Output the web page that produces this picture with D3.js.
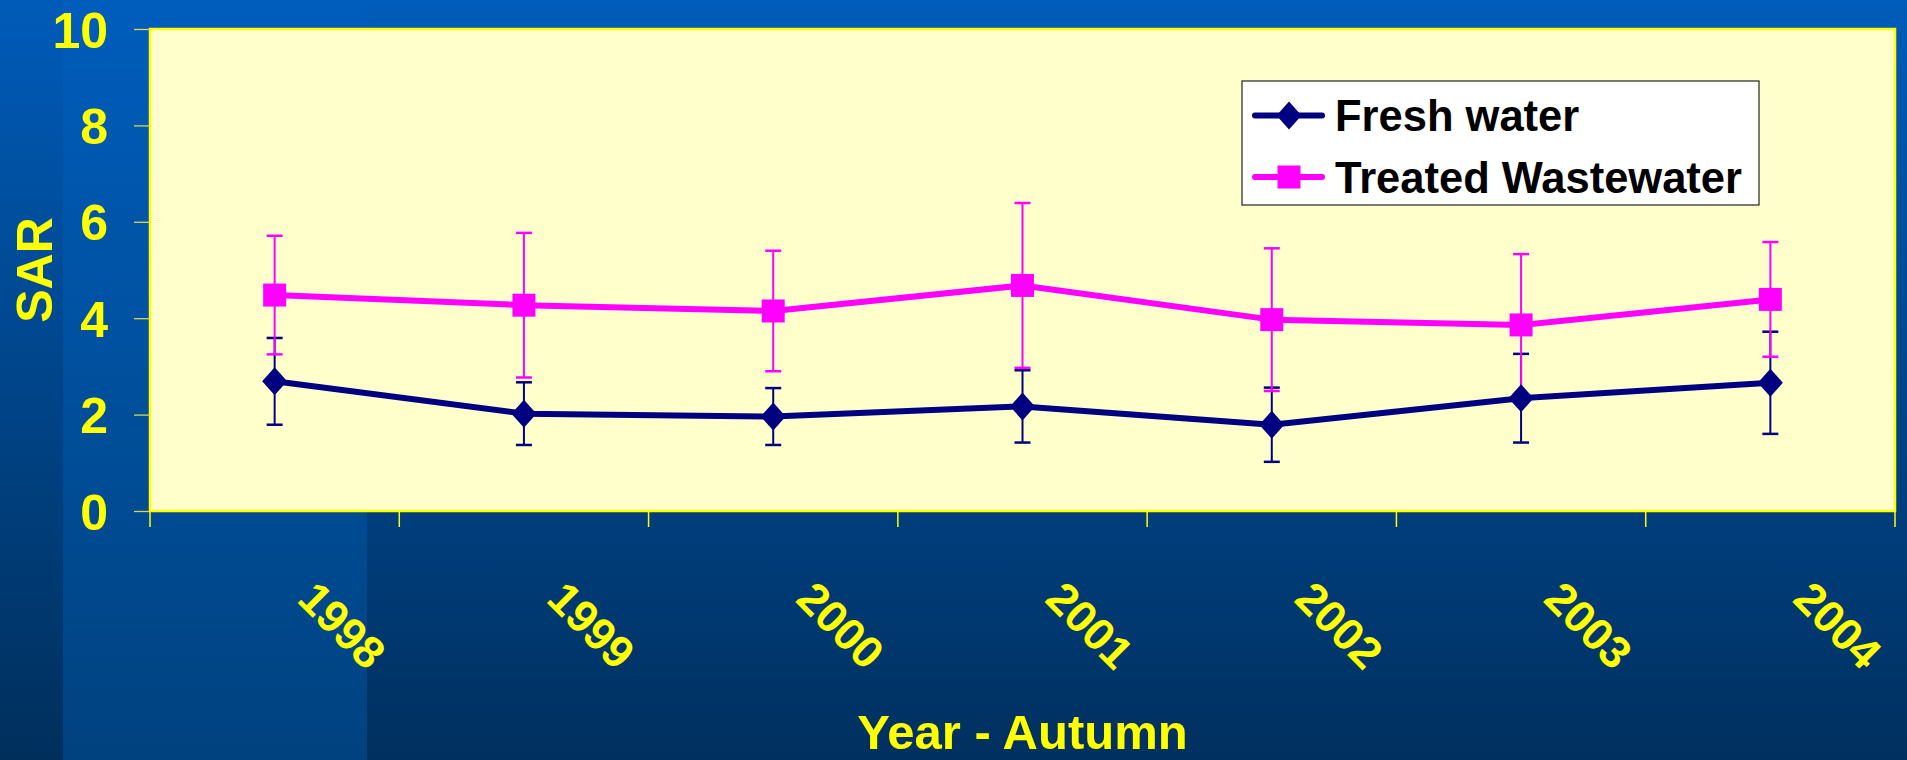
<!DOCTYPE html>
<html>
<head>
<meta charset="utf-8">
<script src="https://cdn.jsdelivr.net/npm/d3@7"></script>
<style>
  html, body { margin: 0; padding: 0; background: #00458a; overflow: hidden; }
  svg { display: block; }
  text { font-family: "Liberation Sans", Arial, Helvetica, sans-serif; font-weight: bold; }
</style>
</head>
<body>
<svg id="chart" width="1907" height="760"></svg>
<script>
// ---- data ----
const years = ["1998", "1999", "2000", "2001", "2002", "2003", "2004"];
const freshWater = [2.69, 2.02, 1.96, 2.17, 1.79, 2.34, 2.66];
const freshWaterErr = [0.90, 0.65, 0.59, 0.75, 0.77, 0.92, 1.06];
const treatedWastewater = [4.48, 4.27, 4.15, 4.68, 3.97, 3.86, 4.39];
const treatedWastewaterErr = [1.23, 1.50, 1.25, 1.71, 1.48, 1.47, 1.19];
const yTicks = [0, 2, 4, 6, 8, 10];
const seriesNames = ["Fresh water", "Treated Wastewater"];
const seriesColors = ["#000080", "#FF00FF"];
const yTitle = "SAR";
const xTitle = "Year - Autumn";

// ---- layout ----
const W = 1907, H = 760;
const plot = { left: 150, right: 1895, top: 29, bottom: 511 };
const FONT = 50;

const svg = d3.select("#chart");
const defs = svg.append("defs");

function vgrad(id, top, bottom) {
  const g = defs.append("linearGradient").attr("id", id)
    .attr("x1", 0).attr("y1", 0).attr("x2", 0).attr("y2", 1);
  g.append("stop").attr("offset", "0%").attr("stop-color", top);
  g.append("stop").attr("offset", "100%").attr("stop-color", bottom);
}
vgrad("bgMain", "#005cba", "#00305f");
vgrad("bgBand", "#005dbc", "#00427f");
vgrad("bgLeft", "#005bb8", "#002f5c");

svg.append("rect").attr("x", 0).attr("y", 0).attr("width", W).attr("height", H).attr("fill", "url(#bgMain)");
svg.append("rect").attr("x", 0).attr("y", 0).attr("width", 63).attr("height", H).attr("fill", "url(#bgLeft)");
svg.append("rect").attr("x", 63).attr("y", 0).attr("width", 304).attr("height", H).attr("fill", "url(#bgBand)");

// scales
const x = d3.scaleBand().domain(years).range([plot.left, plot.right]).padding(0);
const y = d3.scaleLinear().domain([0, 10]).range([plot.bottom, plot.top]);
const cx = d => x(d) + x.bandwidth() / 2;

// plot area
svg.append("rect")
  .attr("x", plot.left).attr("y", plot.top)
  .attr("width", plot.right - plot.left).attr("height", plot.bottom - plot.top)
  .attr("fill", "#FFFFCC").attr("stroke", "#FFFF00").attr("stroke-width", 2.5);

// y axis
const yAxis = d3.axisLeft(y).tickValues(yTicks).tickFormat(d3.format("d"))
  .tickSize(16).tickPadding(26);
const gy = svg.append("g").attr("transform", `translate(${plot.left},0)`).call(yAxis);
gy.select(".domain").remove();
gy.selectAll(".tick line").attr("stroke", "#d8d850").attr("stroke-width", 1.3);
gy.selectAll(".tick text").attr("fill", "#FFFF00").attr("font-size", FONT)
  .attr("dy", "0.36em")
  .style("font-family", '"Liberation Sans", Arial, sans-serif').style("font-weight", "bold");

// x axis: ticks at category boundaries
const boundaries = years.map(d => x(d)).concat([plot.right]);
svg.append("g").selectAll("line").data(boundaries).join("line")
  .attr("x1", d => d).attr("x2", d => d)
  .attr("y1", plot.bottom).attr("y2", plot.bottom + 16)
  .attr("stroke", "#FFFF00").attr("stroke-width", 1.5);

svg.append("g").selectAll("text").data(years).join("text")
  .attr("transform", d => `translate(${cx(d) + 21},601) rotate(45)`)
  .attr("fill", "#FFFF00").attr("font-size", 45)
  .attr("text-anchor", "start")
  .text(d => d);

// axis titles
svg.append("text")
  .attr("transform", `translate(52,${(plot.top + plot.bottom) / 2}) rotate(-90)`)
  .attr("text-anchor", "middle").attr("fill", "#FFFF00").attr("font-size", FONT)
  .text(yTitle);
svg.append("text")
  .attr("x", (plot.left + plot.right) / 2).attr("y", 749)
  .attr("text-anchor", "middle").attr("fill", "#FFFF00").attr("font-size", 49)
  .text(xTitle);

// series
const series = [
  { name: seriesNames[0], values: freshWater, err: freshWaterErr, color: seriesColors[0], shape: "diamond" },
  { name: seriesNames[1], values: treatedWastewater, err: treatedWastewaterErr, color: seriesColors[1], shape: "square" }
];

// error bars (drawn beneath lines and markers)
const capW = 16;
series.forEach(s => {
  const g = svg.append("g");
  years.forEach((yr, i) => {
    const v = s.values[i], e = s.err[i];
    const xc = cx(yr);
    g.append("line").attr("x1", xc).attr("x2", xc).attr("y1", y(v + e)).attr("y2", y(v - e))
      .attr("stroke", s.color).attr("stroke-width", 2);
    [v + e, v - e].forEach(t => {
      g.append("line").attr("x1", xc - capW / 2).attr("x2", xc + capW / 2)
        .attr("y1", y(t)).attr("y2", y(t))
        .attr("stroke", s.color).attr("stroke-width", 2.5);
    });
  });
});

function drawMarker(g, shape, xc, yc, color) {
  if (shape === "diamond") {
    g.append("path")
      .attr("d", `M${xc},${yc - 14} L${xc + 12.5},${yc} L${xc},${yc + 14} L${xc - 12.5},${yc} Z`)
      .attr("fill", color);
  } else {
    g.append("rect").attr("x", xc - 11.5).attr("y", yc - 11.5)
      .attr("width", 23).attr("height", 23).attr("fill", color);
  }
}

const line = d3.line().x((d, i) => cx(years[i])).y(d => y(d));
series.forEach(s => {
  const g = svg.append("g");
  g.append("path").datum(s.values).attr("d", line)
    .attr("fill", "none").attr("stroke", s.color).attr("stroke-width", 6)
    .attr("stroke-linejoin", "round");
  s.values.forEach((v, i) => drawMarker(g, s.shape, cx(years[i]), y(v), s.color));
});

// legend
const lg = svg.append("g");
lg.append("rect").attr("x", 1242).attr("y", 81).attr("width", 517).attr("height", 124)
  .attr("fill", "#FFFFFF").attr("stroke", "#222").attr("stroke-width", 1.2);
series.forEach((s, i) => {
  const ly = 115.5 + i * 61.5;
  lg.append("line").attr("x1", 1255).attr("x2", 1322).attr("y1", ly).attr("y2", ly)
    .attr("stroke", s.color).attr("stroke-width", 6).attr("stroke-linecap", "round");
  drawMarker(lg, s.shape, 1289, ly, s.color);
  lg.append("text").attr("x", 1335).attr("y", ly + 15.5)
    .attr("font-size", 43.5).attr("fill", "#000").text(s.name);
});
</script>
</body>
</html>
